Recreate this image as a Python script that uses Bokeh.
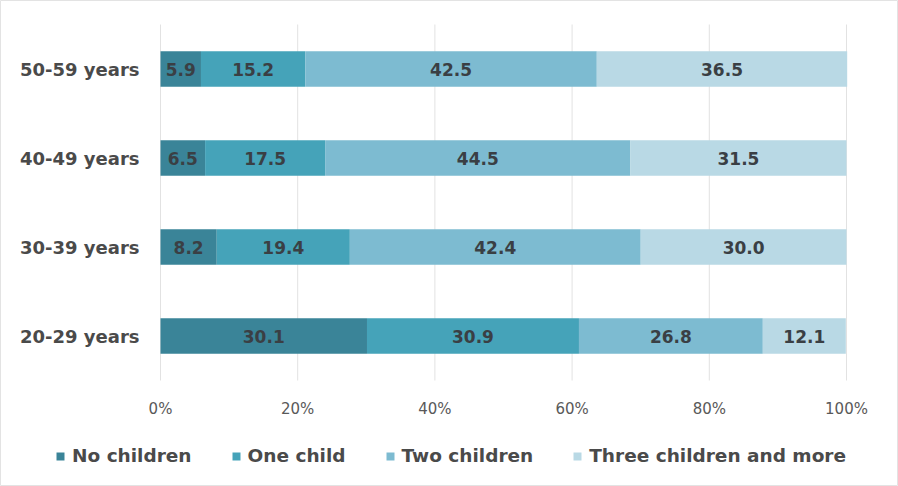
from bokeh.plotting import figure
from bokeh.models import ColumnDataSource, Legend, LegendItem, Range1d
from bokeh.core.properties import value
from bokeh.embed import file_html
from bokeh.resources import INLINE

# Share of women by number of children, per age group (%)
age_groups = ["20-29 years", "30-39 years", "40-49 years", "50-59 years"]
series_names = ["No children", "One child", "Two children", "Three children and more"]
no_children = [30.1, 8.2, 6.5, 5.9]
one_child = [30.9, 19.4, 17.5, 15.2]
two_children = [26.8, 42.4, 44.5, 42.5]
three_plus = [12.1, 30.0, 31.5, 36.5]
x_ticks = [0, 20, 40, 60, 80, 100]

colors = ["#3a8498", "#45a3b9", "#7dbbd1", "#b9d9e5"]
series = [no_children, one_child, two_children, three_plus]

FONT = "DejaVu Sans"
W, H = 898, 486
# pixel geometry of the bar area inside the canvas
LEFT_PX, RIGHT_PX, TOP_PX = 160, 846, 24
PX_PER_X = (RIGHT_PX - LEFT_PX) / 100.0
PX_PER_Y = 89.0
n = len(age_groups)

x_start = -LEFT_PX / PX_PER_X
x_end = 100 + (W - RIGHT_PX) / PX_PER_X
y_end = n + TOP_PX / PX_PER_Y
y_start = y_end - H / PX_PER_Y

# the frame covers the whole canvas so the legend row is not clipped
p = figure(width=W, height=H, x_range=Range1d(x_start, x_end), y_range=Range1d(y_start, y_end),
           output_backend="svg", toolbar_location=None,
           min_border=0, min_border_left=0, min_border_right=0,
           min_border_top=0, min_border_bottom=0)
p.axis.visible = False
p.grid.visible = False
p.outline_line_color = "#e3e3e3"

y_pos = [i + 0.5 for i in range(n)]

# vertical gridlines spanning the category bands
p.segment(x0=x_ticks, y0=[0] * len(x_ticks), x1=x_ticks, y1=[n] * len(x_ticks),
          line_color="#e2e2e2", line_width=1)

data = {"y": y_pos}
for name, vals in zip(series_names, series):
    data[name] = vals
src = ColumnDataSource(data)
renderers = p.hbar_stack(series_names, y="y", height=0.4, color=colors,
                         line_color=None, source=src)

# value labels centred in each segment
for i, vals in enumerate(series):
    left = [sum(series[k][j] for k in range(i)) for j in range(n)]
    mid = [l + v / 2 for l, v in zip(left, vals)]
    lsrc = ColumnDataSource(dict(x=mid, y=y_pos, t=[f"{v:.1f}" for v in vals]))
    p.text(x="x", y="y", text="t", source=lsrc, text_align="center",
           text_baseline="middle", text_font=value(FONT), text_font_size="17px",
           text_color="#3a3f44", text_font_style="bold")

# category labels to the left of the bars
csrc = ColumnDataSource(dict(x=[-21 / PX_PER_X] * n, y=y_pos, t=age_groups))
p.text(x="x", y="y", text="t", source=csrc, text_align="right", text_baseline="middle",
       text_font=value(FONT), text_font_size="18px", text_font_style="bold",
       text_color="#4a4a4a")

# percentage tick labels under the bars
tsrc = ColumnDataSource(dict(x=x_ticks, y=[-28 / PX_PER_Y] * len(x_ticks),
                             t=[f"{t}%" for t in x_ticks]))
p.text(x="x", y="y", text="t", source=tsrc, text_align="center", text_baseline="middle",
       text_font=value(FONT), text_font_size="15px", text_color="#595959")

legend = Legend(items=[LegendItem(label=nm, renderers=[r]) for nm, r in zip(series_names, renderers)],
                orientation="horizontal", border_line_color=None, background_fill_alpha=0,
                label_text_font=FONT, label_text_font_size="18.5px", label_text_color="#4a4a4a",
                label_text_font_style="bold",
                glyph_width=10, glyph_height=10, label_standoff=7, spacing=39,
                margin=0, padding=0, location=(55, 20))
p.add_layout(legend)

open("out.html", "w").write(file_html(p, INLINE))
